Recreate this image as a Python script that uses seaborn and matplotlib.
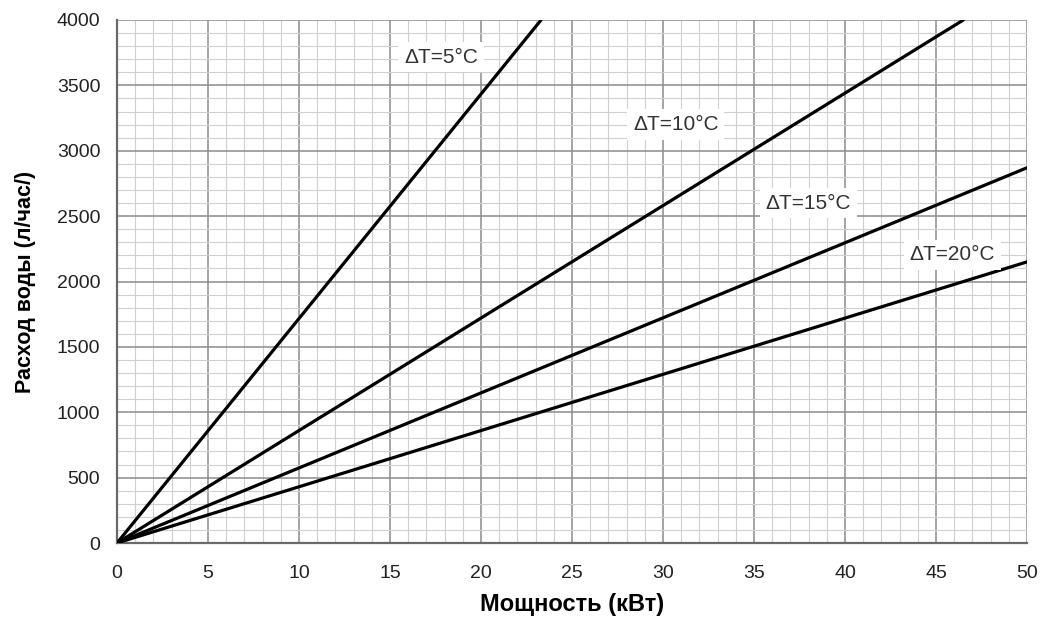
import matplotlib
matplotlib.use("Agg")
import matplotlib.pyplot as plt
import seaborn as sns
import pandas as pd
from matplotlib.ticker import MultipleLocator

sns.set_theme(style="white")
plt.rcParams['font.family'] = ['Liberation Sans', 'DejaVu Sans']

# Data (endpoints of each straight line)
series = ["ΔT=5°C", "ΔT=10°C", "ΔT=15°C", "ΔT=20°C"]
power_5 = [0, 23.3]
flow_5 = [0, 4000]
power_10 = [0, 46.5]
flow_10 = [0, 4000]
power_15 = [0, 50]
flow_15 = [0, 2870]
power_20 = [0, 50]
flow_20 = [0, 2150]

label_x = [17.8, 30.7, 38.0, 45.9]
label_y = [3715, 3200, 2600, 2205]

rows = []
for name, px, fy in zip(series, [power_5, power_10, power_15, power_20],
                        [flow_5, flow_10, flow_15, flow_20]):
    for a, b in zip(px, fy):
        rows.append({"series": name, "P": a, "Q": b})
df = pd.DataFrame(rows)

fig = plt.figure(figsize=(10.4, 6.2), dpi=100)
ax = fig.add_axes([117/1040, 1 - 543/620, 910/1040, 523/620])

sns.lineplot(data=df, x="P", y="Q", units="series", estimator=None,
             color="black", linewidth=2.3, ax=ax, legend=False, zorder=3)

ax.set_xlim(0, 50)
ax.set_ylim(0, 4000)
ax.xaxis.set_major_locator(MultipleLocator(5))
ax.xaxis.set_minor_locator(MultipleLocator(1))
ax.yaxis.set_major_locator(MultipleLocator(500))
ax.yaxis.set_minor_locator(MultipleLocator(100))
ax.grid(which="major", color="#8c8c8c", linewidth=1.1, zorder=0)
ax.grid(which="minor", color="#d0d0d0", linewidth=0.8, zorder=0)
ax.set_axisbelow(True)

for s in ax.spines.values():
    s.set_visible(False)
for side in ("left", "bottom"):
    ax.spines[side].set_visible(True)
    ax.spines[side].set_color("#6a6a6a")
    ax.spines[side].set_linewidth(1.6)

ax.tick_params(axis="both", which="major", direction="out",
               width=1, color="#6a6a6a", labelsize=14, labelcolor="#222222")
ax.tick_params(axis="x", which="major", length=6.5, pad=9)
ax.tick_params(axis="y", which="major", length=5, pad=7)
ax.tick_params(axis="both", which="minor", length=0)

ax.set_xlabel("Мощность (кВт)", fontsize=17, fontweight="bold", labelpad=8,
              color="black")
ax.set_ylabel("Расход воды (л/час/)", fontsize=15.5, fontweight="bold",
              labelpad=15, color="black")

for name, lx, ly in zip(series, label_x, label_y):
    ax.text(lx, ly, name, ha="center", va="center", fontsize=15,
            color="#333333", zorder=4,
            bbox=dict(facecolor="white", edgecolor="none", pad=4))

fig.savefig("out.png", dpi=100)
